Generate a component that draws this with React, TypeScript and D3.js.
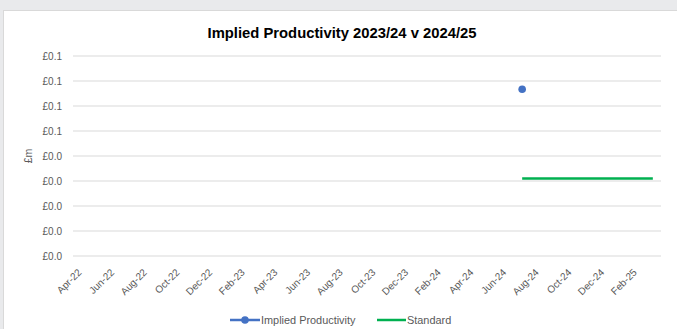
import React from "react";
import * as d3 from "d3";

const months: string[] = (() => {
  const names = ["Apr", "May", "Jun", "Jul", "Aug", "Sep", "Oct", "Nov", "Dec", "Jan", "Feb", "Mar"];
  const out: string[] = [];
  for (let fy = 22; fy <= 24; fy++) {
    names.forEach((n, i) => out.push(`${n}-${i < 9 ? fy : fy + 1}`));
  }
  return out;
})();

const productivity: (number | null)[] = months.map((m) => (m === "Jul-24" ? 0.0667 : null));
const standard: (number | null)[] = months.map((_, i) => (i >= 27 ? 0.031 : null));
const yTicks: number[] = [0, 0.01, 0.02, 0.03, 0.04, 0.05, 0.06, 0.07, 0.08];

const W = 677;
const H = 329;
const left = 73;
const right = 661;
const top = 56;
const bottom = 256;
const FONT = "'Liberation Sans', Arial, sans-serif";

export default function App() {
  const x = d3.scaleBand<string>().domain(months).range([left, right]).padding(0);
  const y = d3.scaleLinear().domain([0, 0.08]).range([bottom, top]);
  const cx = (m: string) => (x(m) as number) + x.bandwidth() / 2;

  const line = d3
    .line<number | null>()
    .defined((d) => d !== null)
    .x((_, i) => cx(months[i]))
    .y((d) => y(d as number));

  const fmt = (v: number) => "£" + (Math.round(v * 10 + 1e-9) / 10).toFixed(1);

  return (
    <svg width={W} height={H} style={{ position: "fixed", left: 0, top: 0 }} fontFamily={FONT}>
      <rect x={0} y={0} width={W} height={H} fill="#e9eaec" />
      <rect x={3.5} y={10.5} width={W} height={H} fill="#ffffff" stroke="#d9d9d9" />
      <text x={342} y={38} textAnchor="middle" fontSize={14.8} fontWeight="bold" fill="#000">
        Implied Productivity 2023/24 v 2024/25
      </text>
      {yTicks.map((t) => (
        <g key={t}>
          <line x1={left} x2={right} y1={y(t)} y2={y(t)} stroke="#d9d9d9" strokeWidth={1} />
          <text x={62} y={y(t) + 3.5} textAnchor="end" fontSize={10} fill="#595959">
            {fmt(t)}
          </text>
        </g>
      ))}
      <text
        transform={`translate(32,${(top + bottom) / 2}) rotate(-90)`}
        textAnchor="middle"
        fontSize={10.5}
        fill="#595959"
      >
        £m
      </text>
      {months
        .filter((_, i) => i % 2 === 0)
        .map((m) => (
          <text
            key={m}
            transform={`translate(${cx(m) + 1},${bottom + 17}) rotate(-45)`}
            textAnchor="end"
            fontSize={10}
            fill="#595959"
          >
            {m}
          </text>
        ))}
      <path d={line(standard) || ""} fill="none" stroke="#00b050" strokeWidth={2.5} />
      <path d={line(productivity) || ""} fill="none" stroke="#4472c4" strokeWidth={2.5} />
      {productivity.map((v, i) =>
        v === null ? null : <circle key={i} cx={cx(months[i])} cy={y(v)} r={3.8} fill="#4472c4" />
      )}
      <g>
        <line x1={230} x2={260} y1={320} y2={320} stroke="#4472c4" strokeWidth={2.5} />
        <circle cx={245} cy={320} r={3.8} fill="#4472c4" />
        <text x={261} y={323.5} fontSize={10.9} fill="#595959">Implied Productivity</text>
        <line x1={377} x2={406} y1={320} y2={320} stroke="#00b050" strokeWidth={2.5} />
        <text x={407} y={323.5} fontSize={10.9} fill="#595959">Standard</text>
      </g>
    </svg>
  );
}
